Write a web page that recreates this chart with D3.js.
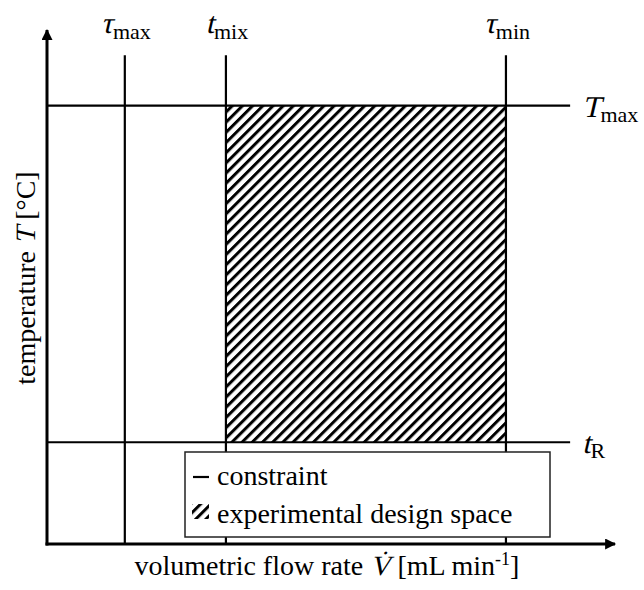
<!DOCTYPE html>
<html>
<head>
<meta charset="utf-8">
<script src="https://cdn.jsdelivr.net/npm/d3@7"></script>
<style>
  html, body { margin: 0; padding: 0; background: #fff; }
  svg { display: block; }
</style>
</head>
<body>
<script>
// Constraint lines of the operating window (arbitrary units, 0-100 on both axes)
const verticalNames = ["τ", "t", "τ"];
const verticalSubs = ["max", "mix", "min"];
const verticalPos = [13.7, 31.5, 80.8];

const horizontalNames = ["T", "t"];
const horizontalSubs = ["max", "R"];
const horizontalPos = [85.3, 19.8];

const legendLabels = ["constraint", "experimental design space"];

const xLabel = ["volumetric flow rate ", "V\u0307", " [mL min", "-1", "]"];
const yLabel = ["temperature ", "T", " [°C]"];

const W = 644, H = 590;
const FONT = '"Liberation Serif"';
const SLANT = -13; // slant used for the symbol letters

const svg = d3.select("body").append("svg")
  .attr("width", W).attr("height", H);

const x = d3.scaleLinear().domain([0, 100]).range([47, 615]);
const y = d3.scaleLinear().domain([0, 100]).range([544, 30]);

const lineTop = 95.1;     // upper end of the vertical constraints
const lineRight = 92.1;   // right end of the horizontal constraints

// lays out a run of text pieces side by side; slanted pieces are the math symbols
function richText(parent, pieces) {
  const g = parent.append("g");
  let cx = 0;
  pieces.forEach(p => {
    const t = g.append("text")
      .attr("font-size", p.size)
      .style("font-family", FONT)
      .style("white-space", "pre")
      .attr("fill", "#000")
      .text(p.text);
    const w = t.node().getComputedTextLength();
    const dy = p.dy || 0;
    if (p.slant) t.attr("transform", `translate(${cx},${dy}) skewX(${SLANT})`);
    else t.attr("x", cx).attr("y", dy);
    cx += w;
  });
  return { g, width: cx };
}

// hatch pattern for the design space
const defs = svg.append("defs");
defs.append("pattern")
  .attr("id", "hatch")
  .attr("patternUnits", "userSpaceOnUse")
  .attr("width", 7.2).attr("height", 7.2)
  .attr("patternTransform", "rotate(45)")
  .append("rect")
  .attr("x", 0).attr("y", 0).attr("width", 3).attr("height", 7.2)
  .attr("fill", "#000");

defs.append("marker")
  .attr("id", "arrow")
  .attr("viewBox", "0 0 10 10")
  .attr("refX", 9).attr("refY", 5)
  .attr("markerUnits", "userSpaceOnUse")
  .attr("markerWidth", 13).attr("markerHeight", 11)
  .attr("orient", "auto")
  .append("path").attr("d", "M0,0 L10,5 L0,10 Z").attr("fill", "#000");

// design space
svg.append("rect")
  .attr("x", x(verticalPos[1]))
  .attr("y", y(horizontalPos[0]))
  .attr("width", x(verticalPos[2]) - x(verticalPos[1]))
  .attr("height", y(horizontalPos[1]) - y(horizontalPos[0]))
  .attr("fill", "url(#hatch)");

// vertical constraints
svg.selectAll("line.v").data(verticalPos).join("line")
  .attr("class", "v")
  .attr("x1", d => x(d)).attr("x2", d => x(d))
  .attr("y1", y(lineTop)).attr("y2", y(0))
  .attr("stroke", "#000").attr("stroke-width", 2.2);

// horizontal constraints
svg.selectAll("line.h").data(horizontalPos).join("line")
  .attr("class", "h")
  .attr("x1", x(0)).attr("x2", x(lineRight))
  .attr("y1", d => y(d)).attr("y2", d => y(d))
  .attr("stroke", "#000").attr("stroke-width", 2.2);

// legend
const lg = svg.append("g");
lg.append("rect")
  .attr("x", 185).attr("y", 452).attr("width", 365).attr("height", 85)
  .attr("fill", "#fff").attr("stroke", "#222").attr("stroke-width", 1.5);
lg.append("line")
  .attr("x1", 193).attr("x2", 209).attr("y1", 477).attr("y2", 477)
  .attr("stroke", "#000").attr("stroke-width", 2.2);
lg.append("rect")
  .attr("x", 192).attr("y", 504).attr("width", 17).attr("height", 15)
  .attr("fill", "url(#hatch)");
lg.selectAll("text").data(legendLabels).join("text")
  .attr("x", 217)
  .attr("y", (d, i) => 485 + i * 38)
  .attr("font-size", 28)
  .style("font-family", FONT)
  .text(d => d);

// axes: bare domain lines ending in arrowheads
const xAxis = svg.append("g").attr("transform", `translate(0,${y(0)})`)
  .call(d3.axisBottom(x).tickValues([]).tickSizeOuter(0));
const yAxis = svg.append("g").attr("transform", `translate(${x(0)},0)`)
  .call(d3.axisLeft(y).tickValues([]).tickSizeOuter(0));
[xAxis, yAxis].forEach(a => a.select(".domain")
  .attr("stroke", "#000").attr("stroke-width", 3)
  .attr("marker-end", "url(#arrow)"));
// run each domain from the origin towards the arrow tip
yAxis.select(".domain").attr("d", `M0,${y(0) + 1.5}V${y(100)}`);
xAxis.select(".domain").attr("d", `M${x(0) - 1.5},0H${x(100)}`);

// x title, centred under the plot
const xt = richText(svg, [
  { text: xLabel[0], size: 28 },
  { text: xLabel[1], size: 28, slant: true },
  { text: xLabel[2], size: 28 },
  { text: xLabel[3], size: 18, dy: -10 },
  { text: xLabel[4], size: 28 }
]);
xt.g.attr("transform", `translate(${327 - xt.width / 2},575)`);

// y title, rotated along the vertical axis
const ytHolder = svg.append("g").attr("transform", "translate(35,278) rotate(-90)");
const yt = richText(ytHolder, [
  { text: yLabel[0], size: 28 },
  { text: yLabel[1], size: 28, slant: true },
  { text: yLabel[2], size: 28 }
]);
yt.g.attr("transform", `translate(${-yt.width / 2},0)`);

// labels above vertical constraints
verticalPos.forEach((d, i) => {
  const lab = richText(svg, [
    { text: verticalNames[i], size: 30, slant: true },
    { text: verticalSubs[i], size: 22, dy: 6 }
  ]);
  lab.g.attr("transform", `translate(${x(d) + 1 - lab.width / 2},33)`);
});

// labels right of horizontal constraints
horizontalPos.forEach((d, i) => {
  const lab = richText(svg, [
    { text: horizontalNames[i], size: 30, slant: true },
    { text: horizontalSubs[i], size: 22, dy: 5 }
  ]);
  lab.g.attr("transform", `translate(${x(lineRight) + 12},${y(d) + 11})`);
});
</script>
</body>
</html>
